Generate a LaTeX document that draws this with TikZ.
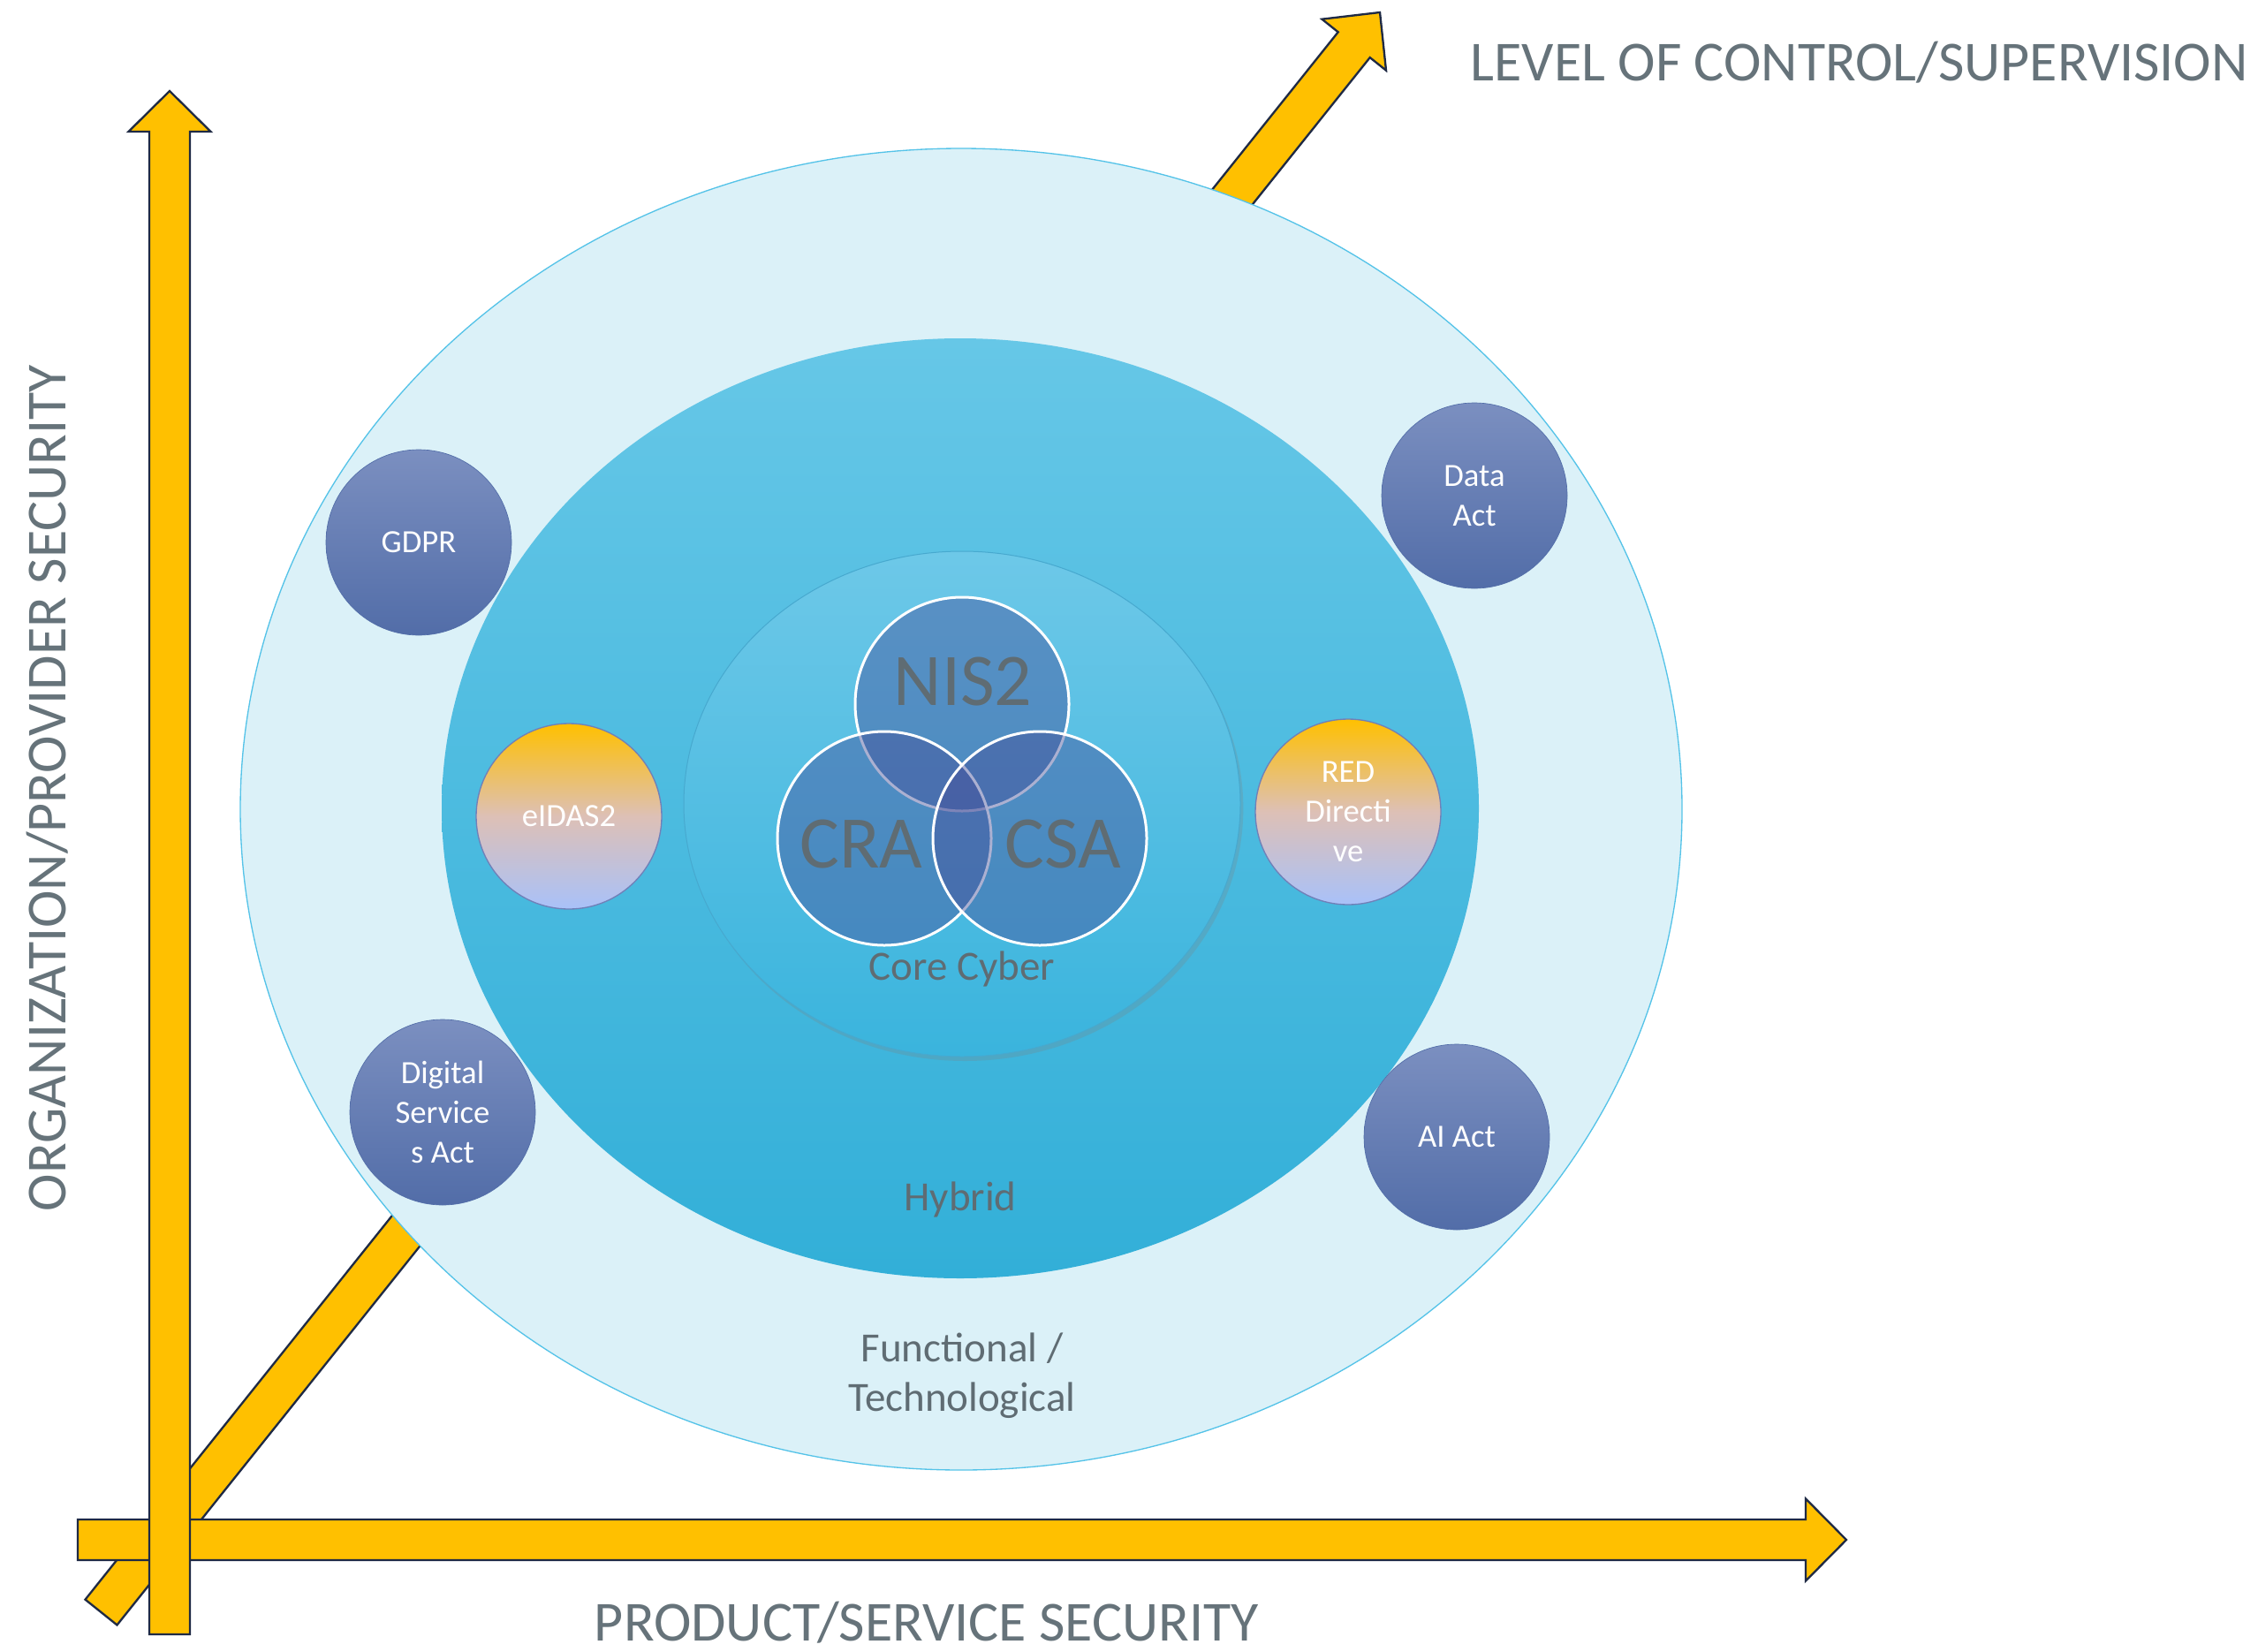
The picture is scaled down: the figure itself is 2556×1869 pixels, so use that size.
\documentclass[tikz,border=0pt]{standalone}
\usepackage{fontspec}
\setmainfont{Carlito}
\usetikzlibrary{shapes.geometric,shadows}
\definecolor{arrowfill}{HTML}{FFC000}
\definecolor{arrowline}{HTML}{1F2A44}
\definecolor{outerfill}{HTML}{DBF1F8}
\definecolor{outerline}{HTML}{55C3E8}
\definecolor{midtop}{HTML}{66C7E7}
\definecolor{midbot}{HTML}{32AFD8}
\definecolor{innertop}{HTML}{6DC8E8}
\definecolor{innerbot}{HTML}{3AB4DD}
\definecolor{innerline}{HTML}{47A9CF}
\definecolor{venncol}{HTML}{46509A}
\definecolor{bluetop}{HTML}{7B8FC0}
\definecolor{bluebot}{HTML}{526DA8}
\definecolor{orgtop}{HTML}{FFC000}
\definecolor{orgmid}{HTML}{DDC0B6}
\definecolor{orgbot}{HTML}{A9C1F9}
\definecolor{orgline}{HTML}{7080B8}
\definecolor{textgray}{HTML}{5F6C73}
\definecolor{axisgray}{HTML}{66737A}
\newcommand\lawfont{\fontsize{11pt}{13.5pt}\selectfont}
\newcommand\axisfont{\fontsize{19.2pt}{22pt}\selectfont}
\newcommand\vennfont{\fontsize{25.2pt}{30pt}\selectfont}
\newcommand\ringfont{\fontsize{14.1pt}{16.8pt}\selectfont}
\begin{document}
\begin{tikzpicture}[x=0.3pt,y=-0.3pt,
  axisarrow/.style={fill=arrowfill, draw=arrowline, line width=0.7pt, line join=miter},
  lawblue/.style={circle, inner sep=0pt, minimum size=63pt, top color=bluetop, bottom color=bluebot, draw=bluebot, line width=0.2pt, text=white, align=center, font=\lawfont},
  laworange/.style={circle, inner sep=0pt, minimum size=63pt, top color=orgtop, bottom color=orgbot, middle color=orgmid, draw=orgline, line width=0.4pt, text=white, align=center, font=\lawfont},
  venn/.style={circle, inner sep=0pt, minimum size=72.6pt, fill=venncol, fill opacity=0.45, draw=white, line width=0.9pt},
  graytext/.style={text=textgray, inner sep=0pt, anchor=base},
  axislabel/.style={text=axisgray, inner sep=0pt, font=\axisfont, anchor=base},
]
\useasboundingbox (0,0) rectangle (2556,1869);

% diagonal axis (behind the ellipses)
\path[axisarrow] (96.5,1810.6) -- (1514.7,36.3) -- (1496.4,21.7) -- (1562,14)
  -- (1569.0,79.7) -- (1550.7,65.1) -- (132.5,1839.4) -- cycle;

% rings
\node[ellipse, inner sep=0pt, outer sep=0pt, minimum width=489.6pt, minimum height=448.8pt,
  fill=outerfill, draw=outerline, line width=0.4pt] (outer) at (1088,916) {};
\node[ellipse, inner sep=0pt, outer sep=0pt, minimum width=352.2pt, minimum height=319.2pt,
  top color=midtop, bottom color=midbot] (middle) at (1087,915) {};
\node[ellipse, inner sep=0pt, outer sep=0pt, minimum width=189pt, minimum height=171.6pt,
  top color=innertop, bottom color=innerbot, draw=innerline, line width=0.3pt,
  drop shadow={shadow xshift=1pt, shadow yshift=-1.5pt, opacity=0.25}] (inner) at (1089,910) {};

% venn circles
\node[venn] (nis) at (1089,797) {};
\node[venn] (cra) at (1001,949) {};
\node[venn] (csa) at (1177,949) {};
\node[graytext, font=\vennfont] (nist) at (1090,798) {NIS2};
\node[graytext, font=\vennfont] (crat) at (975,982) {CRA};
\node[graytext, font=\vennfont] (csat) at (1203,982) {CSA};
\node[graytext, font=\ringfont] (core) at (1089,1109) {Core Cyber};
\node[graytext, font=\ringfont] (hyb) at (1087,1370) {Hybrid};
\node[text=textgray, inner sep=0pt, align=center, font=\ringfont] (func) at (1089,1557) {Functional /\\Technological};

% law circles
\node[lawblue] (gdpr) at (474,614) {GDPR};
\node[lawblue] (data) at (1669,561) {Data\\Act};
\node[lawblue] (dsa) at (501,1259) {Digital\\Service\\s Act};
\node[lawblue] (ai) at (1649,1287) {AI Act};
\node[laworange] (eidas) at (644,924) {eIDAS2};
\node[laworange] (red) at (1526,919) {RED\\Directi\\ve};

% horizontal and vertical axes
\path[axisarrow] (88,1720) -- (2044,1720) -- (2044,1696.5) -- (2090,1743)
  -- (2044,1789.5) -- (2044,1766) -- (88,1766) -- cycle;
\path[axisarrow] (169,1850) -- (169,149) -- (145.5,149) -- (192,103)
  -- (238.5,149) -- (215,149) -- (215,1850) -- cycle;

% axis labels
\node[axislabel, anchor=base west] (lvl) at (1664,92) {LEVEL OF CONTROL/SUPERVISION};
\node[axislabel, rotate=90] (org) at (75,892) {ORGANIZATION/PROVIDER SECURITY};
\node[axislabel] (prod) at (1049,1857) {PRODUCT/SERVICE SECURITY};
\end{tikzpicture}
\end{document}
